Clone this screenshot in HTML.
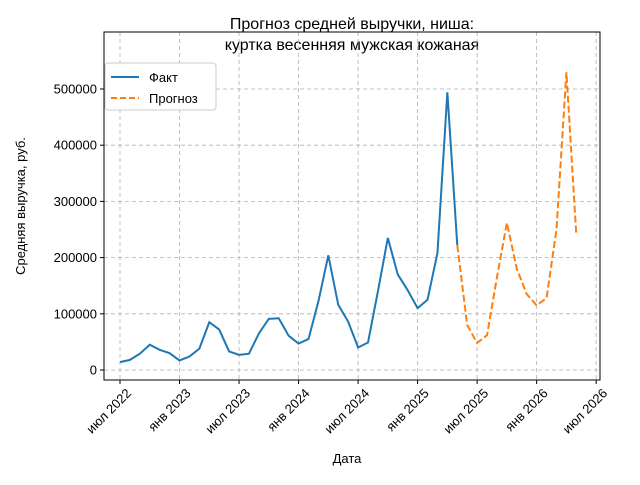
<!DOCTYPE html>
<html><head><meta charset="utf-8"><style>
body{margin:0;background:#fff}
svg text{font-family:"Liberation Sans","DejaVu Sans",sans-serif;fill:#000}
</style></head><body>
<svg id="chart" width="640" height="480">
<text x="352" y="29" font-size="16" text-anchor="middle">Прогноз средней выручки, ниша:</text>
<text x="352" y="50" font-size="16" text-anchor="middle">куртка весенняя мужская кожаная</text>
<text x="25" y="206" font-size="13" text-anchor="middle" transform="rotate(-90 25 206)">Средняя выручка, руб.</text>
<text x="347" y="463" font-size="13" text-anchor="middle">Дата</text>
<g id="grid"></g><g id="series"></g><g id="axes"></g>
<g>
<rect x="105" y="63" width="111" height="47" fill="#fff" stroke="#ccc" rx="3"/>
<line x1="111" y1="77" x2="139" y2="77" stroke="#1f77b4" stroke-width="2"/>
<text x="149" y="82" font-size="13">Факт</text>
<line x1="111" y1="98" x2="139" y2="98" stroke="#ff7f0e" stroke-width="2" stroke-dasharray="6,3"/>
<text x="149" y="103" font-size="13">Прогноз</text>
</g>
</svg>
<script>
const factValues=[14000,18000,29000,45000,36000,30000,17000,24000,38000,85000,72000,33000,27000,29000,65000,91000,92000,61000,47000,55000,122000,204000,116000,86000,40000,49000,140000,235000,170000,142000,110000,125000,208000,494000,222000];
const forecastValues=[222000,80000,48000,62000,165000,262000,180000,135000,115000,128000,250000,530000,240000];
const forecastStart=34;
const yTicks=[0,100000,200000,300000,400000,500000];
const xTickMonths=[0,6,12,18,24,30,36,42,48];
const xTickLabels=["июл 2022","янв 2023","июл 2023","янв 2024","июл 2024","янв 2025","июл 2025","янв 2026","июл 2026"];
const L=104,R=600,T=32,B=380;
const xs=m=>120+m*9.92;
const ys=v=>370-v*0.000562;
const NS="http://www.w3.org/2000/svg";
const g=document.getElementById('grid'),s=document.getElementById('series'),a=document.getElementById('axes');
function mk(tag,at,p){const e=document.createElementNS(NS,tag);for(const k in at)e.setAttribute(k,at[k]);p.appendChild(e);return e;}
yTicks.forEach(v=>{const y=ys(v);
const gl=mk('line',{x1:L,x2:R,y1:y,y2:y,stroke:'#b0b0b0','stroke-dasharray':'4,3','stroke-width':0.8},g);

mk('line',{x1:L-4,x2:L,y1:y,y2:y,stroke:'#000'},a);
const t=mk('text',{x:L-7,y:y+4.5,'font-size':13,'text-anchor':'end'},a);t.textContent=v;
});
xTickMonths.forEach((m,i)=>{const x=xs(m);
const gl=mk('line',{x1:x,x2:x,y1:T,y2:B,stroke:'#b0b0b0','stroke-dasharray':'4,3','stroke-width':0.8},g);

mk('line',{x1:x,x2:x,y1:B,y2:B+4,stroke:'#000'},a);
const tx=x+12,ty=B+14;
const t=mk('text',{x:tx,y:ty,'font-size':13,'text-anchor':'end',transform:`rotate(-45 ${tx} ${ty})`},a);t.textContent=xTickLabels[i];
});
const fr=mk('rect',{x:L,y:T,width:R-L,height:B-T,fill:'none',stroke:'#000','stroke-width':1},a);

const p1=mk('polyline',{points:factValues.map((v,i)=>xs(i)+','+ys(v)).join(' '),fill:'none',stroke:'#1f77b4','stroke-width':2},s);

const p2=mk('polyline',{points:forecastValues.map((v,i)=>xs(i+forecastStart)+','+ys(v)).join(' '),fill:'none',stroke:'#ff7f0e','stroke-width':2,'stroke-dasharray':'7,3'},s);

</script>
</body></html>
